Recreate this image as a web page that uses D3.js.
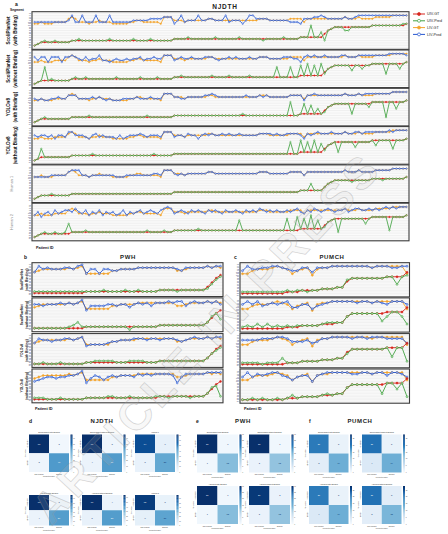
<!DOCTYPE html>
<html><head><meta charset="utf-8">
<script src="https://cdn.jsdelivr.net/npm/d3@7"></script>
<style>body{margin:0;background:#fff}svg{display:block}text{font-family:"Liberation Sans",Arial,sans-serif}</style>
</head><body><svg id="c" width="448" height="534"></svg>
<script>
// ---------------- DATA ----------------
const levelLabels = ["C4","C5","C6","C7","T1","T2","T3","T4","T5","T6","T7","T8","T9","T10","T11","T12","L1","L2","L3","L4","L5"];
const seriesNames = ["UIV-GT","UIV-Pred","LIV-GT","LIV-Pred"];
const njdthRowNames = [["ScoliPlanNet","(with Binding)"],["ScoliPlanNet","(without Binding)"],["YOLOv8","(with Binding)"],["YOLOv8","(without Binding)"],["Human 1"],["Human 2"]];
const smallRowNames = [["ScoliPlanNet","(with Binding)"],["ScoliPlanNet","(without Binding)"],["YOLOv8","(with Binding)"],["YOLOv8","(without Binding)"]];

// NJDTH (110 patients, sorted by UIV-GT)
const njdthUivGT = [
1,2,3,3,3,3,3,3,3,3, 3,4,4,4,4,4,4,4,4,4, 4,4,4,4,4,4,4,4,4,4, 4,4,4,4,4,4,4,4,4,4,
4,5,5,5,5,5,5,5,5,5, 5,5,5,5,5,5,5,5,5,5, 5,5,5,5,5,5,5,5,5,5, 5,5,5,5,5,5,5,5,6,6,
6,6,6,6,6,8,10,11,12,12, 12,12,12,12,12,12,12,12,12,13, 13,13,13,13,13,13,13,13,13,14];
const njdthLivGT = [
14,14,15,14,14,14,15,15,15,15, 17,18,17,15,15,15,14,15,15,16, 15,15,15,14,14,14,14,14,15,15, 16,16,15,15,15,15,15,14,18,18,
18,16,16,16,15,16,16,16,16,16, 16,17,17,16,16,16,16,16,16,16, 16,16,16,16,16,16,17,17,17,16, 16,16,16,16,16,17,17,17,17,15,
17,17,17,17,17,17,17,17,17,17, 17,18,17,17,17,18,17,17,17,17, 18,18,18,18,18,19,19,19,19,19];
const njdthUivPred1 = [
1,2,3,4,3,3,4,3,3,3, 3,4,4,5,4,4,4,4,4,4, 4,4,5,4,4,4,4,4,4,5, 4,4,4,4,5,4,4,4,4,4,
4,5,5,5,5,6,5,5,5,5, 5,5,5,6,5,5,5,5,5,5, 6,5,5,5,5,5,5,4,5,5, 5,5,5,6,5,5,5,5,6,6,
6,13,6,6,9,4,10,11,12,12, 12,10,10,12,12,12,12,12,12,13, 13,13,13,13,13,13,13,13,14,14];
const njdthUivPred2 = [
1,2,3,11,3,4,3,3,3,3, 3,4,5,4,4,5,4,4,4,4, 4,4,4,4,5,4,4,4,4,4, 4,5,4,4,4,4,5,4,4,4,
4,5,5,6,5,5,5,5,5,5, 5,5,6,5,5,5,5,6,5,5, 5,5,5,6,5,5,5,5,5,5, 5,11,5,5,5,11,5,5,12,6,
13,6,12,6,13,7,10,11,12,12, 12,12,12,9,12,12,10,12,12,13, 13,13,13,7,13,13,13,10,13,14];
const njdthUivPred3 = [
1,2,3,4,3,3,3,3,3,3, 3,4,4,4,4,4,5,4,4,4, 4,4,4,4,4,4,4,4,4,4, 4,4,4,5,4,4,4,4,4,4,
4,5,5,5,5,5,5,5,5,5, 5,5,5,5,5,5,5,5,5,5, 5,6,5,5,5,5,5,5,5,5, 5,5,5,5,5,13,5,5,6,12,
6,11,6,9,6,7,10,11,12,12, 12,12,12,6,12,12,12,12,10,13, 13,13,13,4,13,13,9,13,13,14];
const njdthUivPred4 = [
1,2,8,3,3,3,3,3,3,3, 3,4,4,4,4,4,4,5,4,4, 4,4,4,4,4,4,4,4,4,4, 4,4,4,4,4,5,4,4,4,4,
4,5,5,5,5,5,5,5,5,5, 5,5,5,5,5,5,5,5,5,5, 5,5,5,5,5,5,5,5,5,5, 5,5,5,5,5,12,5,5,13,6,
12,6,13,6,11,7,10,11,12,6, 12,12,12,12,9,12,12,12,12,13, 10,13,13,13,13,8,13,13,13,14];
const njdthUivPred5 = [
1,2,3,3,3,4,3,3,3,3, 3,4,4,4,4,4,4,4,4,4, 4,4,4,4,4,4,4,4,4,4, 4,4,4,4,4,4,4,4,4,4,
4,5,5,5,5,5,5,5,5,5, 5,5,5,5,5,5,5,5,5,5, 5,5,5,5,5,5,5,5,5,5, 5,5,5,5,5,5,5,5,6,6,
6,10,6,6,6,8,10,11,12,12, 12,12,12,11,12,12,12,12,12,13, 13,13,12,13,13,13,13,13,13,14];
const njdthUivPred6 = [
1,2,3,4,3,3,4,3,3,4, 9,4,4,4,4,5,4,4,4,4, 4,4,4,4,4,4,4,4,4,4, 4,4,4,5,4,4,4,4,5,4,
4,5,5,5,5,5,5,5,6,5, 5,5,5,5,5,5,5,5,5,5, 11,5,5,5,5,5,5,5,5,5, 5,5,5,5,12,5,5,13,6,12,
6,14,6,11,6,7,10,11,12,4, 12,12,12,12,12,12,12,9,12,13, 13,13,13,13,5,13,13,13,13,14];
const njdthLivPred1 = [
15,15,15,15,15,15,15,15,15,15, 16,19,15,15,19,15,15,15,19,15, 15,15,19,15,15,15,15,15,15,16, 16,16,16,16,17,17,17,17,18,18,
18,14,16,19,15,16,16,16,19,16, 16,17,17,16,16,16,19,15,16,16, 16,14,16,19,19,17,17,17,17,16, 16,16,16,16,16,15,15,15,14,17,
17,17,18,18,19,18,17,17,17,17, 17,18,17,17,18,19,19,19,19,19, 19,19,19,19,19,19,19,19,19,19];
const njdthLivPred2 = [
17,15,17,17,14,17,17,17,14,17, 17,18,17,16,15,17,15,16,16,18, 15,15,14,15,16,15,15,16,15,16, 16,17,15,16,16,17,16,16,18,18,
18,15,16,17,16,16,17,16,16,16, 17,17,17,16,15,16,16,17,16,17, 16,16,16,17,16,16,17,17,17,16, 16,16,16,17,17,17,16,16,14,17,
18,17,18,17,17,18,17,17,17,17, 18,18,17,17,17,18,18,18,18,18, 18,18,18,18,19,19,19,19,19,18];
const njdthLivPred3 = [
15,14,15,14,14,15,15,16,15,15, 17,17,17,15,15,15,15,16,15,16, 15,14,15,14,14,14,15,15,15,15, 16,15,15,15,16,15,15,15,18,18,
18,16,16,15,15,16,16,16,16,16, 17,17,18,17,16,16,16,16,16,16, 16,16,17,16,16,16,17,16,17,16, 16,16,16,16,16,17,17,17,17,14,
17,17,18,17,17,17,17,17,17,17, 17,18,17,17,17,18,17,18,18,18, 18,18,18,18,18,19,19,19,19,19];
const njdthLivPred4 = [
16,15,16,16,15,16,14,16,16,15, 18,18,16,16,16,15,14,16,17,15, 16,15,15,15,14,16,14,15,16,16, 16,17,16,15,16,16,16,15,18,18,
18,15,16,16,15,17,16,16,14,16, 17,16,17,16,16,17,16,17,16,16, 17,16,16,16,16,16,17,17,17,17, 16,17,16,16,17,17,17,17,16,14,
17,16,17,18,17,17,17,18,17,17, 17,18,17,17,18,18,17,18,18,18, 18,18,18,18,19,18,19,19,19,19];
const njdthLivPred5 = [
14,14,14,14,14,15,15,15,15,15, 17,18,18,18,15,15,14,15,15,15, 15,15,15,15,14,14,14,15,15,15, 15,15,15,15,15,16,16,15,18,18,
18,16,15,16,15,16,16,16,16,16, 16,17,17,16,16,16,16,16,16,16, 16,16,16,16,16,16,17,17,17,16, 16,16,16,16,16,17,17,17,17,15,
17,17,17,17,17,17,17,17,17,17, 17,18,17,17,17,18,17,17,17,17, 18,18,18,18,18,19,19,19,19,19];
const njdthLivPred6 = [
14,16,13,15,16,14,17,15,16,17, 17,16,18,16,15,17,14,16,15,17, 14,16,15,16,14,15,17,14,16,15, 16,17,15,16,17,16,15,17,18,19,
18,15,16,17,16,15,17,16,17,16, 15,17,16,17,16,15,17,16,16,17, 16,15,17,16,17,16,18,17,16,17, 16,17,16,16,17,16,17,18,16,15,
17,16,18,17,16,17,18,17,16,17, 17,18,16,17,18,18,17,17,18,17, 18,17,18,19,18,19,18,19,19,19];

// PWH (44 patients)
const pwhUivGT = [1,1,1,1,1,1,1,1,1,1, 1,1,2,2,2,2,2,2,2,2, 2,2,2,2,2,2,2,2,2,3, 3,3,3,3,3,3,3,3,3,3, 5,8,11,13];
const pwhLivGT = [15,16,17,17,17,17,17,17,18,17, 18,19,14,14,14,14,14,14,16,16, 17,17,17,17,18,18,18,18,18,18, 18,18,18,16,16,17,18,18,18,18, 19,18,19,18];
const pwhUivPred1 = [2,2,2,2,2,2,2,2,2,2, 2,2,2,2,2,2,3,2,2,2, 2,3,2,2,3,2,2,2,2,3, 3,3,3,2,3,3,3,3,3,3, 4,7,10,12];
const pwhUivPred2 = [1,1,1,1,1,1,1,1,2,3, 5,2,2,2,2,2,2,2,2,2, 2,2,0,2,2,2,2,2,2,3, 3,3,3,3,3,3,3,3,3,3, 5,9,11,7];
const pwhUivPred3 = [1,1,2,1,1,1,2,1,1,1, 1,1,2,2,3,3,3,3,3,2, 2,2,3,3,3,3,2,2,2,3, 3,3,3,3,3,3,3,3,3,3, 5,8,10,12];
const pwhUivPred4 = [2,2,2,1,1,1,2,1,1,1, 1,1,2,2,2,2,2,3,3,2, 2,2,3,2,2,2,2,2,3,3, 3,2,3,3,3,3,2,3,3,3, 5,9,10,3];
const pwhLivPred1 = [15,19,17,18,17,17,17,18,18,17, 19,20,14,17,17,14,17,17,16,16, 17,17,17,17,18,18,18,18,18,18, 18,18,18,17,16,18,18,18,18,18, 19,18,19,19];
const pwhLivPred2 = [17,17,16,17,17,17,18,17,18,17, 18,20,13,16,16,16,16,17,17,16, 17,17,15,17,18,17,18,16,18,18, 18,19,18,19,19,16,18,19,18,18, 19,18,19,17];
const pwhLivPred3 = [15,18,17,17,16,17,17,18,18,17, 18,19,13,14,14,14,14,15,16,16, 17,17,17,18,18,18,17,18,18,17, 18,18,18,17,16,17,18,19,18,18, 19,18,19,19];
const pwhLivPred4 = [13,14,15,16,16,15,16,16,17,17, 18,20,12,15,17,16,14,16,17,16, 17,17,17,16,18,17,18,17,18,18, 18,18,17,12,16,18,18,18,18,18, 19,19,19,19];

// PUMCH (34 patients)
const pumchUivGT = [1,1,1,1,1,1,1,1,1,2, 2,2,3,3,3,3,4,4,4,5, 5,9,11,11,11,11,11,11,11,12, 12,12,12,15];
const pumchLivGT = [14,14,16,17,17,17,18,19,18,17, 14,16,17,18,13,17,18,18,19,19, 19,19,19,19,19,19,18,19,19,19, 19,19,19,14];
const pumchUivPred1 = [2,2,2,2,2,2,2,2,2,3, 2,3,3,2,3,3,4,4,4,5, 5,10,11,11,11,11,11,11,11,12, 12,7,12,13];
const pumchUivPred2 = [2,3,2,4,2,4,2,3,2,3, 2,3,3,3,3,3,4,5,5,5, 5,9,11,11,11,11,11,11,6,9, 12,12,9,4];
const pumchUivPred3 = [2,2,2,2,1,2,2,2,5,2, 2,2,3,3,3,3,4,4,4,5, 5,8,11,11,11,11,11,11,11,12, 6,12,12,3];
const pumchUivPred4 = [1,1,2,1,2,1,1,2,1,2, 4,2,3,3,3,3,4,5,4,5, 5,9,11,11,11,11,11,11,5,12, 12,8,12,3];
const pumchLivPred1 = [16,19,17,17,18,18,19,19,18,17, 16,16,18,18,15,18,18,18,19,19, 19,19,19,19,19,19,18,19,19,19, 18,18,19,19];
const pumchLivPred2 = [17,19,17,19,16,17,18,17,18,19, 15,15,17,17,14,16,17,18,19,19, 19,19,19,18,19,19,18,19,18,17, 19,19,19,17];
const pumchLivPred3 = [17,17,17,17,18,18,18,19,19,18, 16,16,16,17,15,16,18,18,19,19, 19,19,18,19,19,18,19,19,19,18, 18,18,18,15];
const pumchLivPred4 = [16,19,16,18,17,18,19,19,17,16, 14,16,17,17,13,17,18,19,19,19, 19,19,18,18,19,19,18,19,19,17, 19,19,18,16];

// Confusion matrices [[TN, FP],[FN, TP]]
const cmClasses = ["Non-binding","Binding"];
const njdthCMTitles = ["ScoliPlanNet with Binding","ScoliPlanNet without Binding","Human 1","YOLOv8 with Binding","YOLOv8 without Binding","Human 2"];
const njdthCM = [[[68,2],[3,40]],[[67,3],[4,39]],[[64,6],[5,38]],[[68,2],[4,39]],[[66,4],[5,38]],[[65,5],[6,37]]];
const njdthCMMax = [68,67,72,68,66,68];
const pwhCMTitles = ["ScoliPlanNet with Binding","ScoliPlanNet without Binding","YOLOv8 with Binding","YOLOv8 without Binding"];
const pwhCM = [[[30,1],[1,13]],[[30,1],[2,12]],[[30,1],[1,13]],[[29,2],[2,12]]];
const pwhCMMax = [30,30,30,30];
const pumchCMTitles = ["ScoliPlanNet with Binding","ScoliPlanNet without Binding","YOLOv8 with Binding","YOLOv8 without Binding"];
const pumchCM = [[[20,2],[3,14]],[[21,2],[4,14]],[[20,2],[4,14]],[[21,3],[3,13]]];
const pumchCMMax = [28,28,28,28];

// ---------------- DRAWING ----------------
const C = {uivGT:"#d7261e", uivPred:"#43a343", livGT:"#f3a42c", livPred:"#2757d0"};
const CL = {uivPred:"#b9e0b5", livPred:"#b4c6f0"};
const svg = d3.select("#c");
const font = (sel, size, weight, fill) => sel.attr("font-size", size).attr("font-weight", weight || "normal").attr("fill", fill || "#111");

function drawLinePanel(cfg) {
  const N = cfg.uivGT.length;
  const x = d3.scaleLinear().domain([0, N - 1]).range([cfg.x0 + 2.5, cfg.x1 - 2.5]);
  cfg.tops.forEach((top, k) => {
    const g = svg.append("g");
    const y = d3.scaleLinear().domain([0, 20]).range([top + cfg.h - 2, top + 2]);
    g.append("rect").attr("x", cfg.x0).attr("y", top).attr("width", cfg.x1 - cfg.x0).attr("height", cfg.h).attr("fill", "#fff");
    g.selectAll(null).data(d3.range(0, 21)).join("line")
      .attr("x1", cfg.x0).attr("x2", cfg.x1).attr("y1", d => y(d)).attr("y2", d => y(d))
      .attr("stroke", "#dedede").attr("stroke-width", 0.45);
    font(g.selectAll(null).data(levelLabels).join("text")
      .attr("x", cfg.x0 - 1.2).attr("y", (d, i) => y(i) + 0.6).attr("text-anchor", "end").text(d => d), 1.6, "normal", "#22305a");
    const line = d3.line().x((d, i) => x(i)).y(d => y(d));
    const series = [
      {d: cfg.livGT, c: C.livGT, f: C.livGT},
      {d: cfg.livPreds[k], c: C.livPred, f: CL.livPred},
      {d: cfg.uivGT, c: C.uivGT, f: C.uivGT},
      {d: cfg.uivPreds[k], c: C.uivPred, f: CL.uivPred}];
    series.forEach(s => {
      g.append("path").datum(s.d).attr("d", line).attr("fill", "none").attr("stroke", s.c).attr("stroke-width", cfg.lw);
      g.selectAll(null).data(s.d).join("circle")
        .attr("cx", (d, i) => x(i)).attr("cy", d => y(d)).attr("r", cfg.r)
        .attr("fill", s.f).attr("stroke", s.c).attr("stroke-width", cfg.r * 0.55);
    });
    g.append("rect").attr("x", cfg.x0).attr("y", top).attr("width", cfg.x1 - cfg.x0).attr("height", cfg.h)
      .attr("fill", "none").attr("stroke", "#3b3b3b").attr("stroke-width", 1.1);
    if (cfg.names) {
      const nm = cfg.names[k], yc = top + cfg.h / 2;
      if (nm.length === 2) {
        nm.forEach((t, j) => font(g.append("text").attr("transform", `translate(${cfg.labelX[j]},${yc}) rotate(-90)`)
          .attr("text-anchor", "middle").text(t), cfg.labelSize, "bold", "#111"));
      } else {
        font(g.append("text").attr("transform", `translate(${cfg.labelX[0] + 3},${yc}) rotate(-90)`)
          .attr("text-anchor", "middle").text(nm[0]), cfg.labelSize * 0.85, "normal", "#888");
      }
    }
  });
}

const aTops = d3.range(6).map(i => 11.7 + i * 38.3);
drawLinePanel({x0: 32, x1: 409, tops: aTops, h: 37.6, uivGT: njdthUivGT, livGT: njdthLivGT,
  uivPreds: [njdthUivPred1, njdthUivPred2, njdthUivPred3, njdthUivPred4, njdthUivPred5, njdthUivPred6],
  livPreds: [njdthLivPred1, njdthLivPred2, njdthLivPred3, njdthLivPred4, njdthLivPred5, njdthLivPred6],
  r: 0.75, lw: 0.85, names: njdthRowNames, labelX: [9.8, 17.3], labelSize: 4.6});
const bTops = [262.7, 297.9, 333.6, 369];
drawLinePanel({x0: 32, x1: 223, tops: bTops, h: 33.8, uivGT: pwhUivGT, livGT: pwhLivGT,
  uivPreds: [pwhUivPred1, pwhUivPred2, pwhUivPred3, pwhUivPred4],
  livPreds: [pwhLivPred1, pwhLivPred2, pwhLivPred3, pwhLivPred4],
  r: 0.95, lw: 0.9, names: smallRowNames, labelX: [22.5, 28], labelSize: 3.4});
drawLinePanel({x0: 240, x1: 409.5, tops: bTops, h: 34.2, uivGT: pumchUivGT, livGT: pumchLivGT,
  uivPreds: [pumchUivPred1, pumchUivPred2, pumchUivPred3, pumchUivPred4],
  livPreds: [pumchLivPred1, pumchLivPred2, pumchLivPred3, pumchLivPred4],
  r: 1.0, lw: 0.9, names: null});

// legend
const legColors = [C.uivGT, C.uivPred, C.livGT, C.livPred];
const legFill = [C.uivGT, "#fff", C.livGT, "#fff"];
seriesNames.forEach((t, i) => {
  const yy = 14 + i * 6.8;
  svg.append("line").attr("x1", 413).attr("x2", 425).attr("y1", yy).attr("y2", yy).attr("stroke", legColors[i]).attr("stroke-width", 1);
  svg.append("circle").attr("cx", 419).attr("cy", yy).attr("r", 1.5).attr("fill", legFill[i]).attr("stroke", legColors[i]).attr("stroke-width", 0.7);
  font(svg.append("text").attr("x", 427).attr("y", yy + 1.3).text(t), 3.7, "normal", "#222");
});

// titles & panel letters
font(svg.append("text").attr("x", 15).attr("y", 5.5).text("a"), 5, "bold");
font(svg.append("text").attr("x", 10).attr("y", 10.5).text("Segment"), 3.3, "bold");
font(svg.append("text").attr("x", 225).attr("y", 8.5).attr("text-anchor", "middle").attr("letter-spacing", 0.8).text("NJDTH"), 6.5, "bold", "#222");
font(svg.append("text").attr("x", 36).attr("y", 249).text("Patient ID"), 3.8, "bold");
font(svg.append("text").attr("x", 24).attr("y", 258.5).text("b"), 5, "bold");
font(svg.append("text").attr("x", 128).attr("y", 258.5).attr("text-anchor", "middle").attr("letter-spacing", 0.6).text("PWH"), 6, "bold", "#222");
font(svg.append("text").attr("x", 234).attr("y", 258.5).text("c"), 5, "bold");
font(svg.append("text").attr("x", 332).attr("y", 258.5).attr("text-anchor", "middle").attr("letter-spacing", 0.6).text("PUMCH"), 6, "bold", "#222");
font(svg.append("text").attr("x", 35).attr("y", 410).text("Patient ID"), 3.8, "bold");
font(svg.append("text").attr("x", 244).attr("y", 410).text("Patient ID"), 3.8, "bold");

// confusion matrices
function drawCM(x0, y0, w, h, vals, vmax, title) {
  const g = svg.append("g");
  const xb = d3.scaleBand().domain([0, 1]).range([x0, x0 + w]);
  const yb = d3.scaleBand().domain([0, 1]).range([y0, y0 + h]);
  const col = d3.scaleSequential(d3.interpolateBlues).domain([0, vmax]);
  const cells = [];
  vals.forEach((row, i) => row.forEach((v, j) => cells.push({i, j, v})));
  g.selectAll(null).data(cells).join("rect")
    .attr("x", d => xb(d.j)).attr("y", d => yb(d.i)).attr("width", xb.bandwidth()).attr("height", yb.bandwidth())
    .attr("fill", d => col(d.v));
  g.selectAll(null).data(cells).join("text")
    .attr("x", d => xb(d.j) + xb.bandwidth() / 2).attr("y", d => yb(d.i) + yb.bandwidth() / 2 + 0.7)
    .attr("text-anchor", "middle").attr("font-size", 2.2)
    .attr("fill", d => d.v / vmax > 0.55 ? "#fff" : "#08306b").text(d => d.v);
  font(g.append("text").attr("x", x0 + w / 2).attr("y", y0 - 1.2).attr("text-anchor", "middle").text(title), 1.9, "normal", "#333");
  cmClasses.forEach((c, k) => {
    font(g.append("text").attr("x", xb(k) + xb.bandwidth() / 2).attr("y", y0 + h + 2.6).attr("text-anchor", "middle").text(c), 1.7, "normal", "#444");
    font(g.append("text").attr("transform", `translate(${x0 - 1},${yb(k) + yb.bandwidth() / 2}) rotate(-90)`).attr("text-anchor", "middle").text(c), 1.7, "normal", "#444");
  });
  font(g.append("text").attr("x", x0 + w / 2).attr("y", y0 + h + 5).attr("text-anchor", "middle").text("Predicted label"), 1.8, "normal", "#444");
  font(g.append("text").attr("transform", `translate(${x0 - 3.5},${y0 + h / 2}) rotate(-90)`).attr("text-anchor", "middle").text("True label"), 1.8, "normal", "#444");
  const cb = d3.scaleLinear().domain([0, vmax]).range([y0 + h, y0]);
  const steps = d3.range(0, 40);
  g.selectAll(null).data(steps).join("rect")
    .attr("x", x0 + w + 1.5).attr("width", 2)
    .attr("y", d => cb(vmax * (d + 1) / 40)).attr("height", h / 40 + 0.2)
    .attr("fill", d => col(vmax * (d + 0.5) / 40));
  g.selectAll(null).data(cb.ticks(6)).join("text")
    .attr("x", x0 + w + 4.2).attr("y", d => cb(d) + 0.5).attr("font-size", 1.5).attr("fill", "#444").text(d => d);
}
font(svg.append("text").attr("x", 29).attr("y", 422.5).text("d"), 5, "bold");
font(svg.append("text").attr("x", 102).attr("y", 422.5).attr("text-anchor", "middle").attr("letter-spacing", 0.6).text("NJDTH"), 6, "bold", "#222");
font(svg.append("text").attr("x", 196).attr("y", 422.5).text("e"), 5, "bold");
font(svg.append("text").attr("x", 243).attr("y", 422.5).attr("text-anchor", "middle").attr("letter-spacing", 0.6).text("PWH"), 6, "bold", "#222");
font(svg.append("text").attr("x", 309).attr("y", 422.5).text("f"), 5, "bold");
font(svg.append("text").attr("x", 360).attr("y", 422.5).attr("text-anchor", "middle").attr("letter-spacing", 0.6).text("PUMCH"), 6, "bold", "#222");

const dCols = [29, 82, 135];
njdthCM.forEach((m, k) => {
  const r = Math.floor(k / 3), c = k % 3;
  drawCM(dCols[c], r === 0 ? 434.5 : 495, 40, r === 0 ? 37.5 : 30.5, m, njdthCMMax[k], njdthCMTitles[k]);
});
const eCols = [197, 249];
pwhCM.forEach((m, k) => {
  const r = Math.floor(k / 2), c = k % 2;
  drawCM(eCols[c], r === 0 ? 434.5 : 486, 41, 38, m, pwhCMMax[k], pwhCMTitles[k]);
});
const fCols = [309, 362];
pumchCM.forEach((m, k) => {
  const r = Math.floor(k / 2), c = k % 2;
  drawCM(fCols[c], r === 0 ? 434.5 : 486, 39.5, 38, m, pumchCMMax[k], pumchCMTitles[k]);
});

// watermark
svg.append("text").attr("transform", "translate(218,348) rotate(-47)")
  .attr("text-anchor", "middle").attr("font-size", 44).attr("font-weight", "bold").attr("letter-spacing", 5)
  .attr("fill", "rgba(200,200,200,0.15)").attr("stroke", "rgba(150,150,150,0.38)").attr("stroke-width", 0.8)
  .text("ARTICLE IN PRESS");
</script></body></html>
